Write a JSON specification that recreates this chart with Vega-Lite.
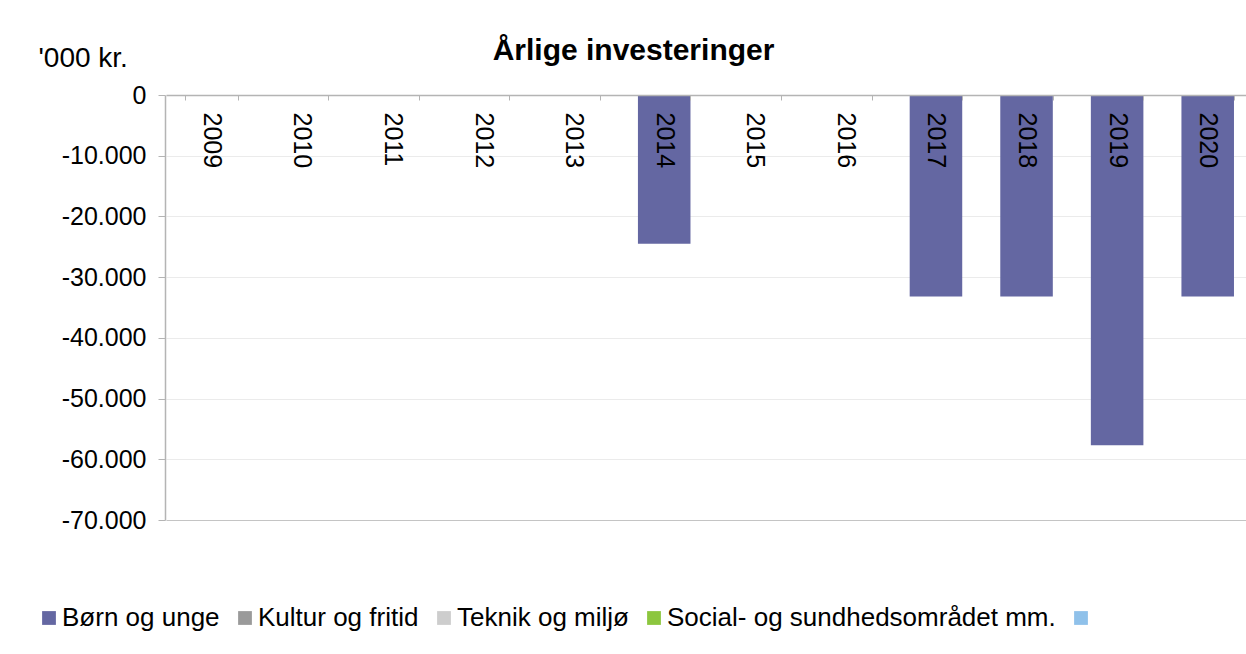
{
  "$schema": "https://vega.github.io/schema/vega-lite/v6.json",
  "width": 1081,
  "height": 425,
  "autosize": {"type": "none"},
  "padding": {"left": 165, "top": 95, "right": 0, "bottom": 134},
  "background": "white",
  "title": {
    "text": "Årlige investeringer",
    "font": "Liberation Sans",
    "fontSize": 30,
    "fontWeight": "bold",
    "color": "#000000",
    "anchor": "middle",
    "frame": "group",
    "dx": -72,
    "baseline": "alphabetic",
    "offset": -46
  },
  "data": {
    "values": [
      {"year": "2009", "category": "Børn og unge", "value": 0},
      {"year": "2010", "category": "Børn og unge", "value": 0},
      {"year": "2011", "category": "Børn og unge", "value": 0},
      {"year": "2012", "category": "Børn og unge", "value": 0},
      {"year": "2013", "category": "Børn og unge", "value": 0},
      {"year": "2014", "category": "Børn og unge", "value": -24500},
      {"year": "2015", "category": "Børn og unge", "value": 0},
      {"year": "2016", "category": "Børn og unge", "value": 0},
      {"year": "2017", "category": "Børn og unge", "value": -33200},
      {"year": "2018", "category": "Børn og unge", "value": -33200},
      {"year": "2019", "category": "Børn og unge", "value": -57700},
      {"year": "2020", "category": "Børn og unge", "value": -33200}
    ]
  },
  "mark": {"type": "bar"},
  "encoding": {
    "x": {
      "field": "year",
      "type": "nominal",
      "sort": "ascending",
      "scale": {"range": [1, 1088], "paddingInner": 0.42, "paddingOuter": 0.21},
      "axis": {
        "orient": "bottom",
        "offset": -425,
        "title": null,
        "labelAngle": 90,
        "labelAlign": "left",
        "labelBaseline": "middle",
        "labelPadding": 12,
        "tickSize": 5,
        "tickBand": "extent",
        "tickColor": "#b4b4b4",
        "domainColor": "#b4b4b4",
        "domainWidth": 1.5,
        "labelFont": "Liberation Sans",
        "labelFontSize": 25,
        "labelColor": "#000000",
        "zindex": 1,
        "grid": false
      }
    },
    "y": {
      "field": "value",
      "type": "quantitative",
      "scale": {"domain": [-70000, 0], "nice": false},
      "axis": {
        "title": "'000 kr.",
        "titleAngle": 0,
        "titleAlign": "left",
        "titleBaseline": "alphabetic",
        "titleX": -127,
        "titleY": -29,
        "titleFont": "Liberation Sans",
        "titleFontSize": 28,
        "titleFontWeight": "normal",
        "titleColor": "#000000",
        "values": [0, -10000, -20000, -30000, -40000, -50000, -60000, -70000],
        "labelExpr": "datum.value == 0 ? '0' : (datum.value < 0 ? '-' : '') + replace(format(abs(datum.value), ','), ',', '.')",
        "labelFont": "Liberation Sans",
        "labelFontSize": 25,
        "labelColor": "#000000",
        "labelPadding": 12,
        "tickSize": 7,
        "tickColor": "#b4b4b4",
        "domainColor": "#b4b4b4",
        "domainWidth": 1.5,
        "grid": true,
        "gridColor": {"condition": {"test": "datum.value === -70000", "value": "#c4c4c4"}, "value": "#ebebeb"},
        "gridWidth": 1
      }
    },
    "color": {
      "field": "category",
      "type": "nominal",
      "scale": {
        "domain": ["Børn og unge", "Kultur og fritid", "Teknik og miljø", "Social- og sundhedsområdet mm.", "Øvrige"],
        "range": ["#6467a2", "#9a9a9a", "#cdcdcd", "#8cc63e", "#8fc1ea"]
      },
      "legend": {
        "orient": "none",
        "legendX": -129,
        "legendY": 510,
        "padding": 0,
        "direction": "horizontal",
        "title": null,
        "symbolType": "square",
        "symbolSize": 190,
        "symbolStrokeWidth": 0,
        "symbolOpacity": 1,
        "labelFont": "Liberation Sans",
        "labelFontSize": 26,
        "labelColor": "#000000",
        "labelOffset": 0,
        "columnPadding": 12,
        "labelLimit": 0,
        "labelExpr": "datum.label == 'Øvrige' ? '' : datum.label"
      }
    }
  },
  "config": {"view": {"stroke": null}}
}
